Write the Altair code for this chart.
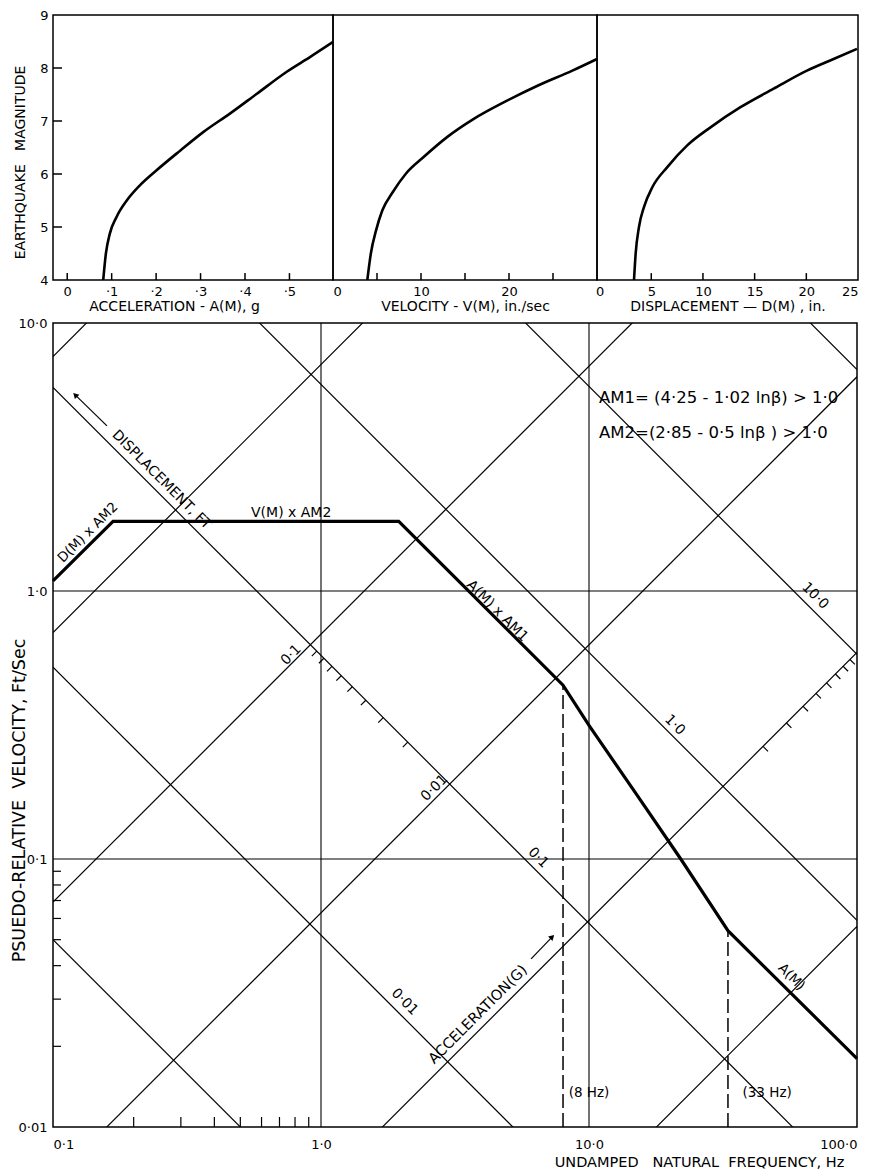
import altair as alt
import pandas as pd
import numpy as np

FONT = "DejaVu Sans"
SP = "\u00a0"

# ---------------- top panels (magnitude relations) ----------------
acc_A = [0.081, 0.087, 0.096, 0.111, 0.134, 0.164, 0.201, 0.254, 0.306, 0.366, 0.426, 0.494, 0.547, 0.598]
acc_M = [4.0, 4.5, 4.88, 5.19, 5.5, 5.79, 6.07, 6.44, 6.79, 7.14, 7.51, 7.93, 8.21, 8.49]
vel_V = [3.9, 4.3, 4.9, 5.6, 6.8, 8.3, 10.3, 13.0, 16.0, 19.5, 23.3, 27.2, 30.0]
vel_M = [4.0, 4.5, 4.94, 5.31, 5.66, 6.01, 6.32, 6.7, 7.04, 7.36, 7.67, 7.95, 8.17]
dis_D = [3.33, 3.49, 3.81, 4.3, 5.1, 6.55, 8.48, 10.73, 13.63, 16.84, 20.06, 22.64, 24.9]
dis_M = [4.0, 4.5, 5.0, 5.38, 5.75, 6.13, 6.54, 6.88, 7.26, 7.61, 7.95, 8.17, 8.36]

acc_ticks = [0, 0.1, 0.2, 0.3, 0.4, 0.5]
vel_ticks = [5, 10, 15, 20, 25]
dis_ticks = [5, 10, 15, 20]
mag_ticks = [5, 6, 7, 8]
mag_labels = [4, 5, 6, 7, 8, 9]

# ---------------- tripartite chart ----------------
disp_ft = [10, 1, 0.1, 0.01, 0.001, 0.0001]
disp_v1 = [75, 7.0, 0.69, 0.063, 0.0059, 0.00056]      # V (ft/s) at 1 Hz on constant-D lines
acc_g = [100, 10, 1, 0.1, 0.01, 0.001]
acc_v1 = [670, 58, 5.9, 0.575, 0.052, 0.005]            # V (ft/s) at 1 Hz on constant-A lines

spec_f = [0.1, 0.1675, 1.95, 8, 10, 15, 22, 33, 100]
spec_v = [1.09, 1.82, 1.82, 0.445, 0.315, 0.175, 0.10, 0.054, 0.018]

grid_f = [1, 10]
grid_v = [0.1, 1]
minor_f = [0.2, 0.3, 0.4, 0.5, 0.6, 0.7, 0.8, 0.9]
minor_v = [0.02, 0.03, 0.04, 0.05, 0.06, 0.07, 0.08, 0.09]
disp_scale_ticks = [0.09, 0.08, 0.07, 0.06, 0.05, 0.04, 0.03, 0.02]
acc_scale_ticks = [9, 8, 7, 6, 5, 4, 3, 2]
dash_f = [8, 33]
dash_v = [0.445, 0.054]

ann_text = ["DISPLACEMENT, FT", "ACCELERATION(G)", "D(M) x AM2", "V(M) x AM2", "A(M) x AM1",
            "A(M)", "(8 Hz)", "(33 Hz)", "10·0", "1·0", "0·1", "0·01", "0·1", "0·01"]
ann_f = [0.254, 3.86, 0.135, 0.774, 4.55, 56.9, 10.0, 46.2, 69.8, 20.9, 6.46, 2.05, 0.774, 2.65]
ann_v = [2.6, 0.0262, 1.65, 1.95, 0.842, 0.0363, 0.0134, 0.0134, 0.958, 0.316, 0.101, 0.0293, 0.577, 0.184]
ann_angle = [45, 315, 315, 0, 45, 45, 0, 0, 45, 45, 45, 45, 315, 315]
ann_size = [14, 14.5, 13.5, 14, 14, 13.5, 13.5, 13.5, 14, 14, 14, 14, 14, 14]

eq_text = ["AM1=" + SP + "(4·25 - 1·02 lnβ) > 1·0", "AM2=(2·85 - 0·5 lnβ" + SP + ") > 1·0"]
eq_f = [10.9, 10.9]
eq_v = [5.25, 3.89]

arrow_tail_f = [0.159, 6.08]
arrow_tail_v = [4.13, 0.0424]
arrow_head_f = [0.121, 7.29]
arrow_head_v = [5.39, 0.0512]
arrow_angle = [315, 45]


def top_panel(xv, mv, domain, width, tick_vals, label_vals, label_expr, title, title_x=None, show_y=False):
    xs = alt.Scale(domain=domain, nice=False, zero=False)
    ys = alt.Scale(domain=[4, 9], nice=False, zero=False)
    ax_kw = dict(values=label_vals, labelExpr=label_expr, title=title, ticks=False, domain=False,
                 grid=False, labelFont=FONT, labelFontSize=13, labelPadding=5, labelColor="black",
                 titleFont=FONT, titleFontSize=14, titleFontWeight="normal", titleColor="black",
                 titlePadding=1)
    if title_x is not None:
        ax_kw["titleX"] = title_x
        ax_kw["titleAlign"] = "center"
    xaxis = alt.Axis(**ax_kw)
    if show_y:
        yaxis = alt.Axis(values=mag_labels, ticks=False, domain=False, grid=False, labelFont=FONT,
                         labelFontSize=13, labelPadding=5, labelColor="black",
                         title="EARTHQUAKE" + SP + SP + SP + "MAGNITUDE", titleFont=FONT, titleFontSize=14,
                         titleFontWeight="normal", titleColor="black", titleX=-33, titleY=147,
                         titleAngle=270, titleAlign="center", titleBaseline="middle")
    else:
        yaxis = None

    def X(f):
        return alt.X(f, type="quantitative", scale=xs, axis=xaxis)

    def Y(f):
        return alt.Y(f, type="quantitative", scale=ys, axis=yaxis)

    curve = alt.Chart(pd.DataFrame({"xv": xv, "mv": mv})).mark_line(
        color="black", strokeWidth=2.6, clip=True, interpolate="monotone").encode(x=X("xv"), y=Y("mv"))
    xt = alt.Chart(pd.DataFrame({"xv": tick_vals, "m0": [4.0] * len(tick_vals),
                                 "m1": [4.13] * len(tick_vals)})).mark_rule(
        color="black", strokeWidth=1.5).encode(x=X("xv"), y=Y("m0"), y2=alt.Y2("m1"))
    layers = [curve, xt]
    if show_y:
        span = domain[1] - domain[0]
        yt = alt.Chart(pd.DataFrame({"mv": mag_ticks, "x0": [domain[0]] * len(mag_ticks),
                                     "x1": [domain[0] + span * 9 / width] * len(mag_ticks)})
                       ).mark_rule(color="black", strokeWidth=1.5).encode(
            x=X("x0"), x2=alt.X2("x1"), y=Y("mv"))
        layers.append(yt)
    return alt.layer(*layers).properties(width=width, height=265)


p1 = top_panel(acc_A, acc_M, [-0.032, 0.598], 280, acc_ticks, acc_ticks,
               "datum.value == 0 ? '0' : '·' + round(datum.value * 10)",
               "ACCELERATION - A(M), g", title_x=121, show_y=True)
p2 = top_panel(vel_V, vel_M, [0, 30], 264, vel_ticks, [0, 10, 20], "datum.label",
               "VELOCITY - V(M), in./sec")
p3 = top_panel(dis_D, dis_M, [-0.25, 25], 261, dis_ticks, [0, 5, 10, 15, 20, 25], "datum.label",
               "DISPLACEMENT — D(M) , in.")

top = alt.hconcat(p1, p2, p3, spacing=0, bounds="flush").resolve_scale(x="independent", y="independent")

# ---------------- bottom chart ----------------
bx = alt.Scale(type="log", domain=[0.1, 100], nice=False)
by = alt.Scale(type="log", domain=[0.01, 10], nice=False)
xaxis_b = alt.Axis(values=[0.1, 1, 10, 100],
                   labelExpr="datum.value < 0.5 ? '0·1' : datum.value < 5 ? '1·0' : datum.value < 50 ? '10·0' : '100·0'",
                   ticks=False, domain=False, grid=False, labelFont=FONT, labelFontSize=13,
                   labelPadding=11, labelColor="black",
                   title="UNDAMPED" + SP + SP + " NATURAL" + SP + SP + "FREQUENCY, Hz",
                   titleFont=FONT, titleFontSize=14.5, titleFontWeight="normal", titleColor="black",
                   titleX=646, titleY=28, titleAlign="center", titleBaseline="top")
yaxis_b = alt.Axis(values=[0.01, 0.1, 1, 10],
                   labelExpr="datum.value < 0.05 ? '0·01' : datum.value < 0.5 ? '0·1' : datum.value < 5 ? '1·0' : '10·0'",
                   ticks=False, domain=False, grid=False, labelFont=FONT, labelFontSize=13,
                   labelPadding=6, labelColor="black",
                   title="PSUEDO-RELATIVE" + SP + SP + "VELOCITY, Ft/Sec",
                   titleFont=FONT, titleFontSize=17.5, titleFontWeight="normal", titleColor="black",
                   titleX=-34, titleY=477, titleAngle=270, titleAlign="center", titleBaseline="middle")


def BX(f):
    return alt.X(f, type="quantitative", scale=bx, axis=xaxis_b)


def BY(f):
    return alt.Y(f, type="quantitative", scale=by, axis=yaxis_b)


grid_v_df = pd.DataFrame({"f": grid_f, "v0": 0.01, "v1": 10.0})
grid_h_df = pd.DataFrame({"v": grid_v, "f0": 0.1, "f1": 100.0})
gv = alt.Chart(grid_v_df).mark_rule(color="black", strokeWidth=1.1).encode(x=BX("f"), y=BY("v0"), y2="v1")
gh = alt.Chart(grid_h_df).mark_rule(color="black", strokeWidth=1.1).encode(x=BX("f0"), x2="f1", y=BY("v"))

rows = []
for d, v1 in zip(disp_ft, disp_v1):
    rows.append({"fa": 0.1, "fb": 100.0, "va": v1 * 0.1, "vb": v1 * 100.0, "kind": "D"})
for a, v1 in zip(acc_g, acc_v1):
    rows.append({"fa": 0.1, "fb": 100.0, "va": v1 / 0.1, "vb": v1 / 100.0, "kind": "A"})
diag = alt.Chart(pd.DataFrame(rows)).mark_rule(color="black", strokeWidth=1.2, clip=True).encode(
    x=BX("fa"), x2="fb", y=BY("va"), y2="vb")

# minor ticks (inside, first decade)
mb = alt.Chart(pd.DataFrame({"f": minor_f, "v0": 0.01, "v1": 0.01 * 10 ** (10 / 268)})).mark_rule(
    color="black", strokeWidth=1.2).encode(x=BX("f"), y=BY("v0"), y2="v1")
ml = alt.Chart(pd.DataFrame({"v": minor_v, "f0": 0.1, "f1": 0.1 * 10 ** (8 / 269)})).mark_rule(
    color="black", strokeWidth=1.2).encode(x=BX("f0"), x2="f1", y=BY("v"))

# scale ticks along diagonal lines
t = 0.0185
cd_01 = np.log10(acc_v1[3])                     # A = 0.1 g line
ca_hi, ca_lo = np.log10(disp_v1[2]), np.log10(disp_v1[3])
st_rows = []
for D in disp_scale_ticks:
    ca = ca_hi + (-1 - np.log10(D)) * (ca_lo - ca_hi)
    u, w = (cd_01 - ca) / 2, (cd_01 + ca) / 2
    st_rows.append({"fa": 10 ** u, "va": 10 ** w, "fb": 10 ** (u - t), "vb": 10 ** (w - t)})
ca_001 = np.log10(disp_v1[4])                   # D = 0.001 ft line
cd_hi, cd_lo = np.log10(acc_v1[1]), np.log10(acc_v1[2])
for A in acc_scale_ticks:
    cd = cd_lo + np.log10(A) * (cd_hi - cd_lo)
    u, w = (cd - ca_001) / 2, (cd + ca_001) / 2
    st_rows.append({"fa": 10 ** u, "va": 10 ** w, "fb": 10 ** (u + t), "vb": 10 ** (w - t)})
sticks = alt.Chart(pd.DataFrame(st_rows)).mark_rule(color="black", strokeWidth=1.2).encode(
    x=BX("fa"), x2="fb", y=BY("va"), y2="vb")

dashes = alt.Chart(pd.DataFrame({"f": dash_f, "v0": 0.01, "v1": dash_v})).mark_rule(
    color="black", strokeWidth=1.5, strokeDash=[14, 5]).encode(x=BX("f"), y=BY("v0"), y2="v1")

spec = alt.Chart(pd.DataFrame({"f": spec_f, "v": spec_v})).mark_line(
    color="black", strokeWidth=3.2, strokeJoin="miter").encode(x=BX("f"), y=BY("v"))

shafts = alt.Chart(pd.DataFrame({"fa": arrow_tail_f, "va": arrow_tail_v, "fb": arrow_head_f,
                                 "vb": arrow_head_v})).mark_rule(color="black", strokeWidth=1.2).encode(
    x=BX("fa"), x2="fb", y=BY("va"), y2="vb")
heads = alt.Chart(pd.DataFrame({"f": arrow_head_f, "v": arrow_head_v, "a": arrow_angle})).mark_point(
    shape="triangle-up", filled=True, color="black", opacity=1, size=40).encode(
    x=BX("f"), y=BY("v"), angle=alt.Angle("a:Q", scale=None))

ann = alt.Chart(pd.DataFrame({"t": ann_text, "f": ann_f, "v": ann_v, "a": ann_angle, "s": ann_size})
                ).mark_text(font=FONT, color="black", align="center", baseline="middle").encode(
    x=BX("f"), y=BY("v"), text="t:N", angle=alt.Angle("a:Q", scale=None), size=alt.Size("s:Q", scale=None))

eqs = alt.Chart(pd.DataFrame({"t": eq_text, "f": eq_f, "v": eq_v})).mark_text(
    font=FONT, color="black", align="left", baseline="middle", fontSize=16.5).encode(
    x=BX("f"), y=BY("v"), text="t:N")

bottom = alt.layer(gv, gh, diag, mb, ml, sticks, dashes, spec, shafts, heads, ann, eqs).properties(
    width=804, height=804)

chart = alt.vconcat(top, bottom, spacing=2).resolve_scale(
    x="independent", y="independent").properties(
    padding={"left": 1, "top": 0, "right": 0, "bottom": 0}
).configure(font=FONT).configure_view(stroke="black", strokeWidth=1.5)

chart.save("out.html", embed_options={"renderer": "svg", "actions": False})
